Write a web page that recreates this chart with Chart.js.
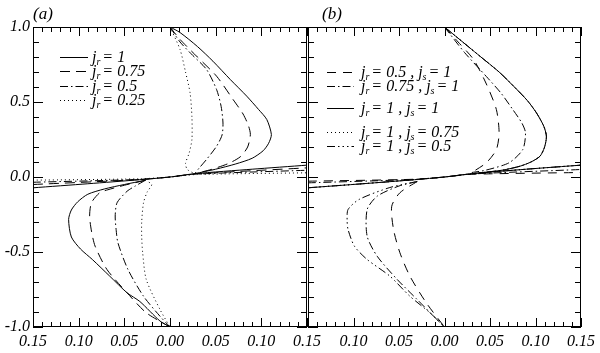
<!DOCTYPE html>
<html>
<head>
<meta charset="utf-8">
<script src="https://cdn.jsdelivr.net/npm/chart.js@4.4.1/dist/chart.umd.min.js"></script>
<style>
    html, body { margin: 0; padding: 0; background: #ffffff; }
    #lienzo { position: relative; width: 600px; height: 353px; }
    #lienzo canvas { position: absolute; left: 0; top: 0; }
</style>
</head>
<body>
<div id="lienzo">
    <canvas id="chartA" width="600" height="353"></canvas>
    <canvas id="chartB" width="600" height="353"></canvas>
</div>
<script>
// ===== DATOS PANEL (a): j_r = 1, 0.75, 0.5, 0.25 =====
// cada curva: rama superior (Sup), recta central (Recta), rama inferior (Inf), puntos [x, y]
const aJr1Sup = [[0,1],[0.011,0.963],[0.03,0.87],[0.047,0.772],[0.066,0.65],[0.084,0.539],[0.097,0.45],[0.106,0.383],[0.111,0.283],[0.108,0.225],[0.102,0.175],[0.09,0.125],[0.072,0.087],[0.05,0.052],[0.027,0.022]];
const aJr1Recta = [[-0.15,-0.072],[-0.09,-0.045],[-0.033,-0.018],[0,0],[0.027,0.022],[0.09,0.052],[0.15,0.079]];
const aJr1Inf = [[-0.027,-0.022],[-0.05,-0.05],[-0.072,-0.08],[-0.09,-0.115],[-0.101,-0.165],[-0.108,-0.22],[-0.111,-0.283],[-0.108,-0.4],[-0.098,-0.48],[-0.085,-0.55],[-0.066,-0.661],[-0.047,-0.772],[-0.033,-0.83],[-0.011,-0.96],[0,-1]];

const aJr075Sup = [[0,1],[0.011,0.917],[0.03,0.8],[0.051,0.672],[0.069,0.517],[0.08,0.42],[0.086,0.34],[0.088,0.283],[0.085,0.2],[0.077,0.135],[0.064,0.09],[0.045,0.05],[0.027,0.022]];
const aJr075Recta = [[-0.15,-0.05],[-0.033,-0.017],[0,0],[0.027,0.02],[0.15,0.061]];
const aJr075Inf = [[-0.027,-0.022],[-0.05,-0.055],[-0.068,-0.085],[-0.077,-0.105],[-0.086,-0.172],[-0.088,-0.26],[-0.086,-0.36],[-0.082,-0.461],[-0.069,-0.617],[-0.047,-0.772],[-0.026,-0.905],[0,-1]];

const aJr05Sup = [[0,1],[0.011,0.9],[0.025,0.81],[0.04,0.717],[0.051,0.583],[0.056,0.47],[0.058,0.36],[0.057,0.28],[0.051,0.205],[0.04,0.117],[0.032,0.06],[0.027,0.022]];
const aJr05Recta = [[-0.15,-0.035],[-0.033,-0.016],[0,0],[0.027,0.019],[0.15,0.045]];
const aJr05Inf = [[-0.027,-0.022],[-0.038,-0.06],[-0.047,-0.095],[-0.058,-0.172],[-0.06,-0.26],[-0.059,-0.35],[-0.057,-0.439],[-0.046,-0.617],[-0.029,-0.795],[-0.011,-0.928],[0,-1]];

const aJr025Sup = [[0,1],[0.011,0.85],[0.017,0.7],[0.022,0.56],[0.024,0.4],[0.024,0.25],[0.021,0.16],[0.017,0.09],[0.019,0.05],[0.027,0.022]];
const aJr025Recta = [[-0.15,-0.021],[-0.033,-0.012],[0,0],[0.027,0.016],[0.15,0.028]];
const aJr025Inf = [[-0.027,-0.022],[-0.02,-0.05],[-0.025,-0.1],[-0.029,-0.172],[-0.031,-0.3],[-0.031,-0.395],[-0.03,-0.5],[-0.026,-0.683],[-0.011,-0.883],[0,-1]];

// ===== DATOS PANEL (b): pares (j_r, j_s) =====
const bJr1Sup = [[0,1],[0.012,0.94],[0.039,0.805],[0.06,0.7],[0.076,0.605],[0.091,0.51],[0.101,0.428],[0.109,0.34],[0.112,0.272],[0.11,0.2],[0.105,0.139],[0.095,0.1],[0.083,0.072],[0.065,0.047],[0.047,0.033],[0.03,0.022]];
const bJr1Recta = [[-0.15,-0.072],[-0.09,-0.045],[-0.033,-0.018],[0,0],[0.03,0.022],[0.09,0.052],[0.15,0.079]];

const bJr05Sup = [[0,1],[0.015,0.9],[0.032,0.783],[0.046,0.62],[0.057,0.45],[0.06,0.295],[0.057,0.183],[0.046,0.095],[0.03,0.03]];
const bJr05Recta = [[-0.15,-0.028],[-0.033,-0.015],[0,0],[0.03,0.018],[0.15,0.03]];
const bJr05Inf = [[-0.03,-0.03],[-0.049,-0.105],[-0.058,-0.195],[-0.056,-0.35],[-0.049,-0.505],[-0.038,-0.661],[-0.02,-0.839],[0,-1]];

const bJr075Sup = [[0,1],[0.022,0.83],[0.046,0.67],[0.062,0.56],[0.075,0.45],[0.085,0.36],[0.089,0.295],[0.086,0.183],[0.071,0.095],[0.045,0.045],[0.03,0.03]];
const bJr075Recta = [[-0.15,-0.039],[-0.033,-0.016],[0,0],[0.03,0.02],[0.15,0.05]];
const bJr075Inf = [[-0.03,-0.03],[-0.05,-0.06],[-0.074,-0.128],[-0.085,-0.217],[-0.085,-0.395],[-0.074,-0.528],[-0.052,-0.683],[-0.03,-0.817],[-0.012,-0.928],[0,-1]];

const bJs05Inf = [[-0.03,-0.03],[-0.06,-0.07],[-0.094,-0.15],[-0.106,-0.217],[-0.107,-0.29],[-0.106,-0.35],[-0.099,-0.461],[-0.085,-0.55],[-0.06,-0.661],[-0.038,-0.795],[-0.016,-0.905],[0,-1]];

// etiquetas de leyenda
const leyendaA = [['1'], ['0.75'], ['0.5'], ['0.25']];
const leyendaB = [['0.5', '1'], ['0.75', '1'], ['1', '1'], ['1', '0.75'], ['1', '0.5']];

const FUENTE = '"Liberation Serif", "DejaVu Serif", serif';

// Unir tramos con un hueco entre ellos
function unirTramos(...tramos) {
    const puntos = [];
    tramos.forEach((tramo, i) => {
        if (i > 0) puntos.push({ x: null, y: null });
        tramo.forEach(p => puntos.push({ x: p[0], y: p[1] }));
    });
    return puntos;
}

function serie(data, dash) {
    return {
        data: data,
        borderColor: '#000000',
        borderWidth: 1,
        borderDash: dash,
        pointRadius: 0,
        tension: 0.25,
        spanGaps: false,
        fill: false
    };
}

// Marco, marcas interiores y títulos
const marcoPlugin = {
    id: 'marco',
    afterDraw(chart, args, opts) {
        const { ctx, chartArea: a, scales: { x, y } } = chart;
        ctx.save();
        ctx.strokeStyle = '#000';
        ctx.lineWidth = 1;
        ctx.strokeRect(a.left + 0.5, a.top + 0.5, a.right - a.left - 1, a.bottom - a.top - 1);
        ctx.beginPath();
        x.ticks.forEach(t => {
            const px = Math.round(x.getPixelForValue(t.value)) + 0.5;
            const largo = Math.round(t.value * 100) % 5 === 0 ? 9 : 5;
            ctx.moveTo(px, a.bottom); ctx.lineTo(px, a.bottom - largo);
            ctx.moveTo(px, a.top); ctx.lineTo(px, a.top + largo);
        });
        y.ticks.forEach(t => {
            const py = Math.round(y.getPixelForValue(t.value)) + 0.5;
            const largo = Math.round(t.value * 10) % 5 === 0 ? 10 : 6;
            ctx.moveTo(a.left, py); ctx.lineTo(a.left + largo, py);
            ctx.moveTo(a.right, py); ctx.lineTo(a.right - largo, py);
        });
        ctx.stroke();

        ctx.fillStyle = '#000';
        ctx.font = 'italic 17px ' + FUENTE;
        ctx.textBaseline = 'alphabetic';
        ctx.fillText(opts.titulo, opts.tituloX, 19);
        ctx.restore();
    }
};

// Leyenda dibujada a mano (subíndices)
const leyendaPlugin = {
    id: 'leyenda',
    afterDraw(chart, args, opts) {
        const ctx = chart.ctx;
        ctx.save();
        ctx.fillStyle = '#000';
        ctx.strokeStyle = '#000';
        ctx.lineWidth = 1;
        ctx.textBaseline = 'middle';
        opts.filas.forEach((fila, i) => {
            const ds = chart.data.datasets[i];
            const yy = opts.ys[i] + 0.5;
            ctx.setLineDash(ds.borderDash || []);
            ctx.beginPath();
            ctx.moveTo(opts.x0, yy);
            ctx.lineTo(opts.x1, yy);
            ctx.stroke();
            ctx.setLineDash([]);
            let xt = opts.xt;
            const letras = ['r', 's'];
            fila.forEach((valor, k) => {
                ctx.font = 'italic 16px ' + FUENTE;
                ctx.fillText('j', xt, yy);
                xt += ctx.measureText('j').width;
                ctx.font = 'italic 10px ' + FUENTE;
                ctx.fillText(letras[k], xt, yy + 5);
                xt += ctx.measureText(letras[k]).width + 2;
                ctx.font = 'italic 16px ' + FUENTE;
                const resto = '= ' + valor + (k < fila.length - 1 ? ' , ' : '');
                ctx.fillText(resto, xt, yy);
                xt += ctx.measureText(resto).width;
            });
        });
        ctx.restore();
    }
};

function opciones(panel, relleno) {
    return {
        responsive: false,
        animation: false,
        layout: { padding: relleno },
        plugins: {
            legend: { display: false },
            tooltip: { enabled: false },
            marco: panel.marco,
            leyenda: panel.leyenda
        },
        scales: {
            x: {
                type: 'linear',
                min: -0.15,
                max: 0.15,
                grid: { display: false, drawTicks: false },
                border: { display: false },
                ticks: {
                    stepSize: 0.01,
                    autoSkip: false,
                    maxRotation: 0,
                    padding: 5,
                    color: '#000',
                    font: { family: FUENTE, size: 16, style: 'italic' },
                    callback: v => {
                        const n = Math.round(v * 100);
                        if (n % 5 !== 0) return '';
                        // el 0.15 de la izquierda del panel (b) coincide con el del panel (a)
                        if (panel.ocultarPrimera && n === -15) return '';
                        return Math.abs(v).toFixed(2);
                    }
                },
                afterFit: s => { s.height = 26; }
            },
            y: {
                type: 'linear',
                min: -1,
                max: 1,
                grid: { display: false, drawTicks: false },
                border: { display: false },
                ticks: {
                    display: panel.etiquetasY,
                    stepSize: 0.1,
                    autoSkip: false,
                    padding: 3,
                    color: '#000',
                    font: { family: FUENTE, size: 16, style: 'italic' },
                    callback: v => (Math.round(v * 10) % 5 === 0 ? v.toFixed(1) : '')
                },
                afterFit: s => { s.width = panel.anchoY; }
            }
        }
    };
}

document.addEventListener('DOMContentLoaded', function() {
    new Chart(document.getElementById('chartA'), {
        type: 'line',
        data: {
            datasets: [
                serie(unirTramos(aJr1Sup, aJr1Recta, aJr1Inf), []),
                serie(unirTramos(aJr075Sup, aJr075Recta, aJr075Inf), [10, 6]),
                serie(unirTramos(aJr05Sup, aJr05Recta, aJr05Inf), [8, 3, 1.5, 3]),
                serie(unirTramos(aJr025Sup, aJr025Recta, aJr025Inf), [1, 3])
            ]
        },
        options: opciones({
            etiquetasY: true,
            anchoY: 33,
            ocultarPrimera: false,
            marco: { titulo: '(a)', tituloX: 33 },
            leyenda: { filas: leyendaA, x0: 60, x1: 88, xt: 92, ys: [57, 71, 86, 100] }
        }, { left: 0, right: 293, top: 27, bottom: 0 }),
        plugins: [marcoPlugin, leyendaPlugin]
    });

    new Chart(document.getElementById('chartB'), {
        type: 'line',
        data: {
            datasets: [
                serie(unirTramos(bJr05Sup, bJr05Recta, bJr05Inf), [9, 7]),
                serie(unirTramos(bJr075Sup, bJr075Recta, bJr075Inf), [8, 3, 1.5, 3]),
                serie(unirTramos(bJr1Sup, bJr1Recta), []),
                serie(unirTramos(bJr1Sup, bJr1Recta), [1, 3]),
                serie(unirTramos(bJr1Sup, bJr1Recta, bJs05Inf), [8, 3, 1.5, 3, 1.5, 3, 1.5, 3])
            ]
        },
        options: opciones({
            etiquetasY: false,
            anchoY: 0,
            ocultarPrimera: true,
            marco: { titulo: '(b)', tituloX: 322 },
            leyenda: { filas: leyendaB, x0: 327, x1: 354, xt: 361, ys: [72, 86, 108, 132, 146] }
        }, { left: 308, right: 17, top: 27, bottom: 0 }),
        plugins: [marcoPlugin, leyendaPlugin]
    });
});
</script>
</body>
</html>
